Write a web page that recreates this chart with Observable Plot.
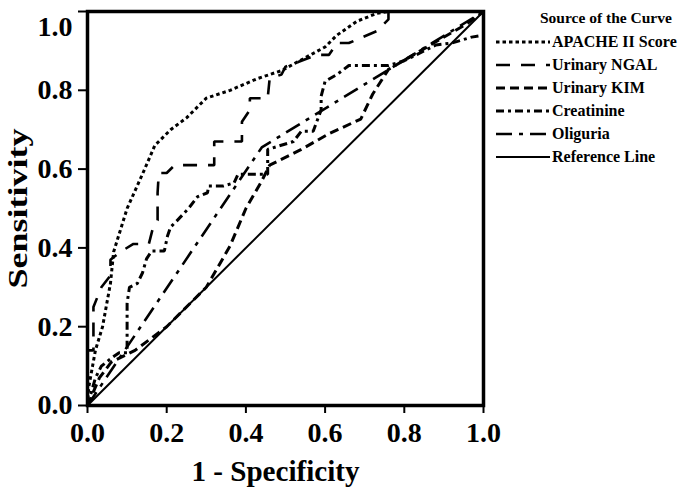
<!DOCTYPE html>
<html>
<head>
<meta charset="utf-8">
<script src="https://cdn.jsdelivr.net/npm/d3@7"></script>
<script src="https://cdn.jsdelivr.net/npm/@observablehq/plot@0.6"></script>
<style>
  html, body { margin: 0; padding: 0; background: #fff; }
  #wrap { position: relative; width: 678px; height: 491px; font-family: "Liberation Serif", "Times New Roman", serif; font-weight: bold; }
  #legend { position: absolute; left: 492px; top: 6px; width: 186px; }
  #legend .title { font-size: 15.5px; margin-left: 48px; height: 24px; line-height: 24px; white-space: nowrap; }
  #legend .row { display: flex; align-items: center; height: 23px; font-size: 16px; white-space: nowrap; }
  #legend svg { width: 60px; height: 10px; flex: none; }
</style>
</head>
<body>
<div id="wrap">
  <div id="chart"></div>
  <div id="legend"></div>
</div>
<script>
// ----- data -----
const seriesNames = ["APACHE II Score", "Urinary NGAL", "Urinary KIM", "Creatinine", "Oliguria", "Reference Line"];

const apacheX = [0, 0.003, 0.02, 0.038, 0.058, 0.066, 0.10, 0.14, 0.17, 0.21, 0.25, 0.30, 0.36, 0.43, 0.49, 0.545, 0.60, 0.63, 0.68, 0.73, 0.76, 1];
const apacheY = [0, 0.046, 0.14, 0.20, 0.31, 0.39, 0.50, 0.59, 0.66, 0.70, 0.73, 0.78, 0.80, 0.83, 0.85, 0.88, 0.91, 0.94, 0.975, 0.995, 1, 1];

const ngalX = [0, 0, 0.015, 0.015, 0.035, 0.058, 0.058, 0.083, 0.116, 0.155, 0.165, 0.177, 0.177, 0.18, 0.20, 0.22, 0.32, 0.32, 0.39, 0.39, 0.41, 0.41, 0.455, 0.46, 0.49, 0.50, 0.58, 0.61, 0.63, 0.66, 0.73, 0.76, 0.76, 1];
const ngalY = [0, 0.14, 0.14, 0.25, 0.30, 0.33, 0.37, 0.39, 0.41, 0.41, 0.45, 0.47, 0.54, 0.59, 0.59, 0.61, 0.61, 0.67, 0.67, 0.72, 0.75, 0.78, 0.78, 0.83, 0.84, 0.86, 0.89, 0.89, 0.92, 0.92, 0.95, 0.98, 1, 1];

const kimX = [0, 0.03, 0.06, 0.12, 0.20, 0.30, 0.36, 0.40, 0.44, 0.46, 0.54, 0.61, 0.69, 0.72, 0.76, 0.83, 0.89, 0.96, 1];
const kimY = [0, 0.07, 0.11, 0.14, 0.20, 0.30, 0.405, 0.50, 0.57, 0.61, 0.65, 0.69, 0.727, 0.79, 0.853, 0.894, 0.929, 0.97, 1];

const creatX = [0, 0.02, 0.035, 0.06, 0.08, 0.10, 0.10, 0.106, 0.126, 0.139, 0.149, 0.162, 0.194, 0.202, 0.21, 0.225, 0.255, 0.278, 0.303, 0.306, 0.343, 0.37, 0.38, 0.455, 0.455, 0.52, 0.54, 0.57, 0.59, 0.59, 0.60, 0.63, 0.66, 0.76, 0.80, 0.88, 0.92, 0.97, 1, 1];
const creatY = [0, 0.07, 0.10, 0.12, 0.134, 0.134, 0.26, 0.30, 0.31, 0.337, 0.372, 0.392, 0.392, 0.43, 0.453, 0.468, 0.50, 0.53, 0.54, 0.557, 0.557, 0.565, 0.587, 0.587, 0.65, 0.67, 0.696, 0.696, 0.75, 0.785, 0.823, 0.84, 0.863, 0.863, 0.875, 0.915, 0.92, 0.935, 0.94, 1];

const oliguriaX = [0, 0.44, 1];
const oliguriaY = [0, 0.655, 1];

const refX = [0, 1];
const refY = [0, 1];

const ticks = [0, 0.2, 0.4, 0.6, 0.8, 1.0];

// ----- styles -----
const styles = {
  "APACHE II Score": {dash: "3.5,3", width: 3},
  "Urinary NGAL":    {dash: "14,11", width: 2.6},
  "Urinary KIM":     {dash: "9,5", width: 3},
  "Creatinine":      {dash: "8,4,3,4", width: 3},
  "Oliguria":        {dash: "16,7,4,7", width: 2.6},
  "Reference Line":  {dash: null, width: 2}
};

const pts = (xs, ys) => xs.map((x, i) => ({x, y: ys[i]}));
const seriesData = {
  "APACHE II Score": pts(apacheX, apacheY),
  "Urinary NGAL": pts(ngalX, ngalY),
  "Urinary KIM": pts(kimX, kimY),
  "Creatinine": pts(creatX, creatY),
  "Oliguria": pts(oliguriaX, oliguriaY),
  "Reference Line": pts(refX, refY)
};

const lineMarks = seriesNames.map(name => Plot.line(seriesData[name], {
  x: "x", y: "y", stroke: "#000",
  strokeWidth: styles[name].width,
  strokeDasharray: styles[name].dash,
  strokeLinecap: "butt",
  strokeLinejoin: "miter"
}));

const chart = Plot.plot({
  width: 678,
  height: 491,
  marginLeft: 87,
  marginRight: 195,
  marginTop: 11,
  marginBottom: 86,
  style: {fontFamily: "'Liberation Serif', 'Times New Roman', serif", fontWeight: "bold", background: "#fff", color: "#000"},
  x: {domain: [0, 1]},
  y: {domain: [0, 1]},
  marks: [
    ...lineMarks,
    Plot.axisX({ticks, tickFormat: d3.format(".1f"), tickSize: 8, tickPadding: 9, strokeWidth: 2, fontSize: 28, fontWeight: "bold",
      label: "1 - Specificity", labelAnchor: "center", labelArrow: false, labelOffset: 75}),
    Plot.axisY({ticks, tickFormat: d3.format(".1f"), tickSize: 9, tickPadding: 6, strokeWidth: 2, fontSize: 28, fontWeight: "bold",
      label: "Sensitivity", labelAnchor: "center", labelArrow: false, labelOffset: 80}),
    Plot.frame({stroke: "#000", strokeWidth: 3.5})
  ]
});
document.getElementById("chart").appendChild(chart);

// fine-tune axis title shapes (the reference's titles are drawn stretched)
const svg = d3.select(chart);
svg.selectAll('g[aria-label="x-axis label"] text')
  .attr("font-size", 30)
  .attr("dx", -10)
  .attr("textLength", 168)
  .attr("lengthAdjust", "spacingAndGlyphs");
svg.selectAll('g[aria-label="y-axis label"] text')
  .attr("font-size", 27)
  .attr("textLength", 160)
  .attr("lengthAdjust", "spacingAndGlyphs");
// keep the top y tick label inside the picture
const yLabels = svg.selectAll('g[aria-label="y-axis tick label"] text').nodes();
if (yLabels.length) {
  const top = yLabels.reduce((a, b) => (a.getBBox().y < b.getBBox().y ? a : b));
  top.setAttribute("dy", "0.56em");
}

// ----- legend -----
const legend = document.getElementById("legend");
const t = document.createElement("div");
t.className = "title";
t.textContent = "Source of the Curve";
legend.appendChild(t);
for (const name of seriesNames) {
  const row = document.createElement("div");
  row.className = "row";
  const s = styles[name];
  row.innerHTML = `<svg viewBox="0 0 60 10"><line x1="4" y1="5" x2="58" y2="5" stroke="#000" stroke-width="${s.width}" ${s.dash ? `stroke-dasharray="${s.dash}"` : ""}/></svg><span>${name}</span>`;
  legend.appendChild(row);
}
</script>
</body>
</html>
